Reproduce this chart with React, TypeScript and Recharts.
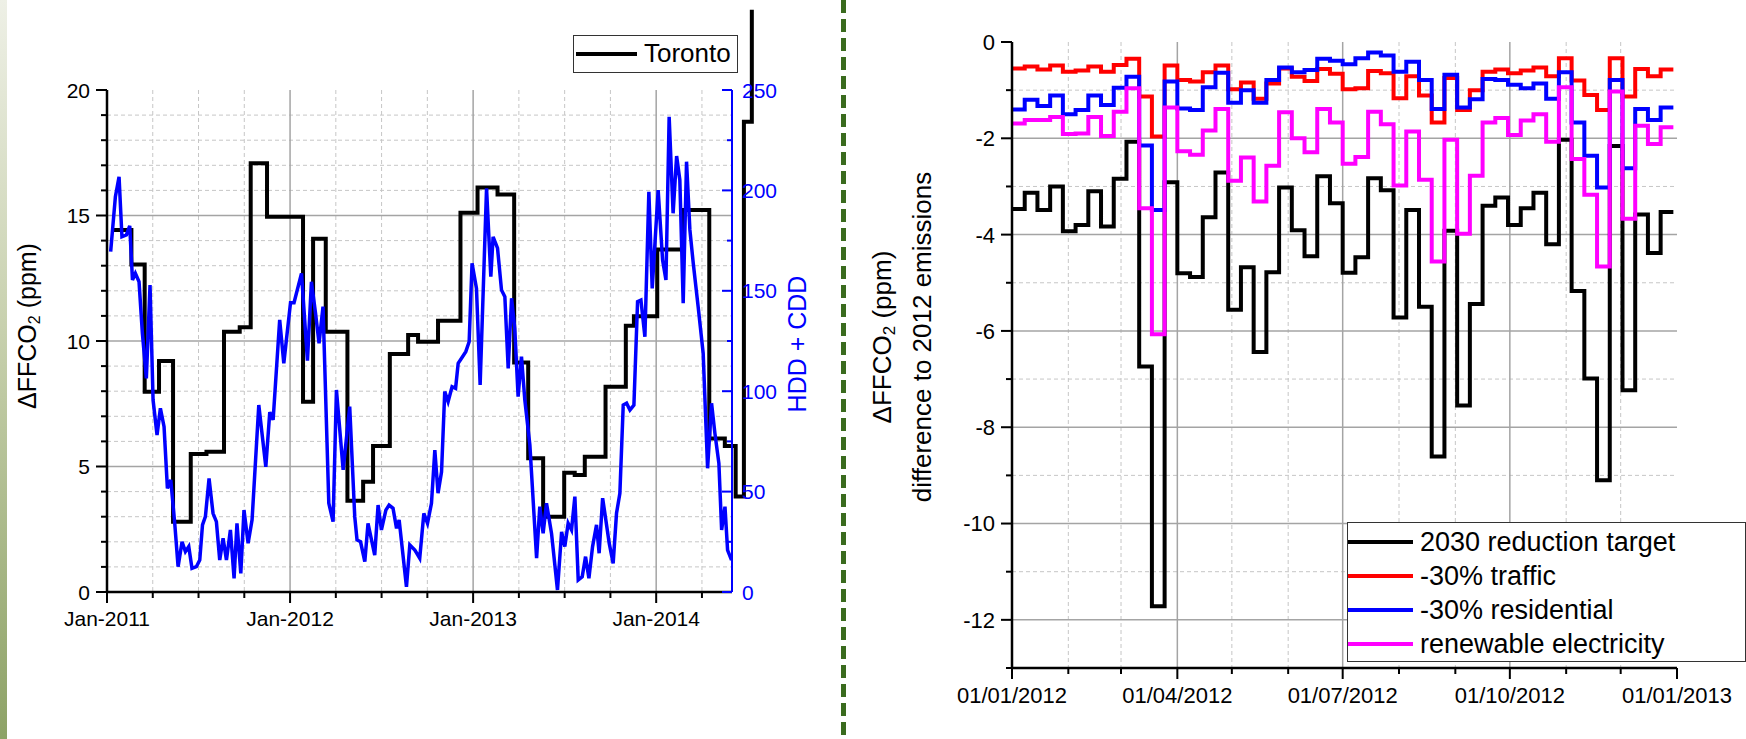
import React from 'react';
import { LineChart, Line, XAxis, YAxis, CartesianGrid, Legend } from 'recharts';

const FONT = '"Liberation Sans", Arial, Helvetica, sans-serif';
const W = 1746;
const H = 739;

// ---------- Left chart: Toronto ΔFFCO2 (monthly steps) and HDD + CDD ----------
// x = months since Jan-2011
const torontoMonths = [0.29, 1.60, 2.47, 3.41, 4.33, 5.49, 6.52, 7.67, 8.70, 9.42, 10.49, 12.85, 13.51, 14.34, 15.76, 16.79, 17.44, 18.54, 19.74, 20.39, 21.70, 23.17, 24.29, 25.60, 26.69, 27.61, 28.59, 29.97, 30.66, 31.32, 32.68, 34.01, 34.54, 36.07, 37.77, 39.48, 40.50, 41.21, 41.75, 42.27];
const torontoValues = [14.42, 13.05, 7.98, 9.20, 2.80, 5.50, 5.59, 10.37, 10.55, 17.08, 14.95, 7.58, 14.07, 10.37, 3.64, 4.39, 5.82, 9.48, 10.24, 9.97, 10.81, 15.11, 16.12, 15.84, 9.14, 5.33, 3.00, 4.75, 4.66, 5.39, 8.18, 10.61, 10.99, 13.65, 15.22, 6.12, 5.82, 3.80, 18.74, 23.20];

const hddMonths = [0.24,0.55,0.79,0.98,1.27,1.49,1.67,1.86,2.10,2.32,2.58,2.82,3.02,3.28,3.50,3.74,3.96,4.18,4.44,4.66,4.92,5.14,5.36,5.57,5.86,6.08,6.26,6.45,6.69,6.95,7.17,7.39,7.61,7.83,8.09,8.33,8.52,8.77,8.98,9.25,9.51,9.95,10.41,10.67,10.89,11.32,11.59,12.03,12.26,12.75,13.14,13.40,13.67,13.90,14.16,14.54,14.82,15.04,15.48,15.91,16.24,16.39,16.62,16.90,17.11,17.55,17.77,17.99,18.28,18.49,18.75,18.98,19.15,19.63,19.85,20.18,20.50,20.77,21.01,21.27,21.49,21.70,21.93,22.14,22.36,22.62,22.85,23.02,23.24,23.52,23.74,23.93,24.22,24.46,24.88,25.16,25.31,25.60,25.86,26.08,26.30,26.52,26.73,26.95,27.17,27.39,27.72,28.16,28.37,28.59,28.81,29.14,29.53,29.80,30.01,30.23,30.45,30.67,30.89,31.15,31.37,31.59,31.83,32.09,32.26,32.49,32.70,32.92,33.18,33.40,33.62,33.84,34.06,34.28,34.54,34.78,35.00,35.26,35.52,35.74,36.13,36.42,36.64,36.85,37.11,37.34,37.55,37.77,37.99,38.21,38.43,38.75,39.08,39.37,39.63,39.85,40.11,40.29,40.51,40.68,40.94];
const hddValues = [169.5,196.9,206.8,176.9,177.8,182.3,155.4,158.7,154.5,128.8,106.4,152.9,95.6,78.2,91.5,82.3,51.6,55.8,34.2,12.6,25.0,20.1,22.6,11.8,12.6,15.9,33.4,37.5,56.6,39.2,35.0,15.9,26.7,15.9,30.9,6.8,34.2,9.3,40.8,24.3,35.9,93.1,62.3,89.6,85.7,135.5,113.9,144.1,144.1,158.7,115.2,154.5,138.8,123.9,142.1,44.2,35.0,100.6,60.8,92.3,37.5,25.9,25.0,15.1,34.2,18.4,43.3,30.9,40.8,43.3,41.7,31.7,35.9,2.6,23.4,20.9,16.8,39.2,34.2,44.2,70.7,49.2,59.9,99.8,94.8,102.2,101.4,113.9,116.4,119.7,124.6,163.7,151.2,103.1,201.0,157.0,176.9,171.2,150.4,147.1,111.4,146.3,131.3,97.3,117.2,95.6,73.2,16.8,42.5,29.2,44.2,29.2,1.0,30.0,22.6,34.2,30.9,47.5,6.0,7.6,17.6,6.8,22.6,33.4,19.3,46.7,35.9,24.3,14.3,39.2,49.2,93.1,94.0,90.6,93.1,144.6,145.4,127.1,199.3,151.2,200.2,165.3,155.4,236.7,188.6,217.1,205.2,143.8,214.3,180.3,163.7,142.1,118.9,61.6,94.0,79.0,64.1,30.9,42.5,20.9,15.9];

const leftXTicks = [0, 3, 6, 9, 12, 15, 18, 21, 24, 27, 30, 33, 36, 39];
const leftYearTicks = [0, 12, 24, 36];
const leftYearLabels = ['Jan-2011', 'Jan-2012', 'Jan-2013', 'Jan-2014'];
const leftYTicks = [0, 1, 2, 3, 4, 5, 6, 7, 8, 9, 10, 11, 12, 13, 14, 15, 16, 17, 18, 19, 20];
const leftYMajor = [0, 5, 10, 15, 20];
const hddTicks = [0, 25, 50, 75, 100, 125, 150, 175, 200, 225, 250];
const hddMajor = [0, 50, 100, 150, 200, 250];
const leftGridMajorY = [5, 10, 15];
const leftGridMinorY = [1, 2, 3, 4, 6, 7, 8, 9, 11, 12, 13, 14, 16, 17, 18, 19];
const leftGridMajorX = [12, 24, 36];
const leftGridMinorX = [3, 6, 9, 15, 18, 21, 27, 30, 33, 39];

// ---------- Right chart: 2012 weekly scenario differences ----------
// x = day of year 2012 (week starts)
const weekDays = [0,7,14,21,28,35,42,49,56,63,70,77,84,91,98,105,112,119,126,133,140,147,154,161,168,175,182,189,196,203,210,217,224,231,238,245,252,259,266,273,280,287,294,301,308,315,322,329,336,343,350,357,364];
const targetValues = [-3.47,-3.13,-3.49,-3.0,-3.93,-3.80,-3.1,-3.83,-2.84,-2.07,-6.74,-11.72,-2.91,-4.8,-4.88,-3.64,-2.71,-5.56,-4.68,-6.44,-4.78,-3.02,-3.91,-4.45,-2.79,-3.35,-4.79,-4.47,-2.83,-3.08,-5.72,-3.49,-5.5,-8.61,-3.92,-7.55,-5.44,-3.4,-3.23,-3.8,-3.45,-3.13,-4.2,-2.03,-5.17,-6.99,-9.1,-2.16,-7.23,-3.58,-4.38,-3.53,-3.53];
const trafficValues = [-0.55,-0.51,-0.57,-0.49,-0.62,-0.59,-0.51,-0.62,-0.48,-0.35,-1.13,-1.96,-0.49,-0.79,-0.82,-0.63,-0.49,-0.98,-0.84,-1.18,-0.86,-0.55,-0.72,-0.81,-0.56,-0.66,-0.98,-0.96,-0.6,-0.65,-1.17,-0.71,-1.11,-1.67,-0.75,-1.41,-1.0,-0.62,-0.57,-0.65,-0.59,-0.53,-0.71,-0.34,-0.8,-1.1,-1.41,-0.34,-1.13,-0.56,-0.71,-0.57,-0.57];
const residentialValues = [-1.40,-1.2,-1.33,-1.11,-1.5,-1.41,-1.11,-1.31,-0.95,-0.72,-2.15,-3.49,-0.82,-1.38,-1.41,-0.94,-0.64,-1.26,-1.0,-1.26,-0.79,-0.53,-0.63,-0.58,-0.35,-0.39,-0.46,-0.34,-0.22,-0.28,-0.62,-0.41,-0.79,-1.39,-0.68,-1.36,-1.19,-0.77,-0.79,-0.89,-0.96,-0.86,-1.18,-0.63,-1.67,-2.36,-3.02,-0.79,-2.62,-1.39,-1.62,-1.36,-1.36];
const renewableValues = [-1.69,-1.62,-1.62,-1.56,-1.91,-1.9,-1.56,-1.95,-1.45,-0.96,-3.45,-6.07,-1.36,-2.27,-2.34,-1.84,-1.39,-2.88,-2.4,-3.31,-2.57,-1.46,-2.0,-2.29,-1.39,-1.67,-2.53,-2.39,-1.45,-1.71,-2.98,-1.86,-2.86,-4.56,-2.03,-3.98,-2.78,-1.67,-1.58,-1.93,-1.63,-1.5,-2.07,-0.94,-2.43,-3.17,-4.66,-1.03,-3.67,-1.74,-2.12,-1.77,-1.77];

const scenarioNames = ['2030 reduction target', '-30% traffic', '-30% residential', 'renewable electricity'];
const scenarioKeys = ['target', 'traffic', 'residential', 'renewable'];
const scenarioColors = ['#000000', '#ff0000', '#0000ff', '#ff00ff'];

const rightXTicks = [0, 31, 60, 91, 121, 152, 182, 213, 244, 274, 305, 335, 366];
const rightQuarterTicks = [0, 91, 182, 274, 366];
const rightQuarterLabels = ['01/01/2012', '01/04/2012', '01/07/2012', '01/10/2012', '01/01/2013'];
const rightYTicks = [-13, -12, -11, -10, -9, -8, -7, -6, -5, -4, -3, -2, -1, 0];
const rightYMajor = [-12, -10, -8, -6, -4, -2, 0];
const rightGridMajorY = [-12, -10, -8, -6, -4, -2];
const rightGridMinorY = [-11, -9, -7, -5, -3, -1];
const rightGridMajorX = [91, 182, 274];
const rightGridMinorX = [31, 60, 121, 152, 213, 244, 305, 335];

// ---------- built tables ----------
const torontoData = torontoMonths.map((m, i) => ({ m, v: torontoValues[i] }));
const hddData = hddMonths.map((m, i) => ({ m, v: hddValues[i] }));
const scenarioData = weekDays.map((d, i) => ({
  d,
  target: targetValues[i],
  traffic: trafficValues[i],
  residential: residentialValues[i],
  renewable: renewableValues[i],
}));

// ---------- tick renderers ----------
const tickText = { fontFamily: FONT, fill: '#000' };

const LeftXTick = (p: any) => {
  const v = p.payload.value;
  const idx = leftYearTicks.indexOf(v);
  const major = idx >= 0;
  return (
    <g>
      <line x1={p.x} x2={p.x} y1={p.y} y2={p.y + (major ? 11 : 6)} stroke="#000" strokeWidth={2} />
      {major && (
        <text x={p.x} y={p.y + 34} textAnchor="middle" fontSize={21} {...tickText}>{leftYearLabels[idx]}</text>
      )}
    </g>
  );
};

const LeftYTick = (p: any) => {
  const v = p.payload.value;
  const major = leftYMajor.includes(v);
  return (
    <g>
      <line x1={p.x - (major ? 11 : 6)} x2={p.x} y1={p.y} y2={p.y} stroke="#000" strokeWidth={2} />
      {major && (
        <text x={p.x - 17} y={p.y} dy="0.36em" textAnchor="end" fontSize={21} {...tickText}>{v}</text>
      )}
    </g>
  );
};

const HddTick = (p: any) => {
  const v = p.payload.value;
  const major = hddMajor.includes(v);
  return (
    <g>
      <line x1={p.x - (major ? 10 : 5)} x2={p.x} y1={p.y} y2={p.y} stroke="#0000ff" strokeWidth={2} />
      {major && (
        <text x={p.x + 10} y={p.y} dy="0.36em" textAnchor="start" fontSize={21} fontFamily={FONT} fill="#0000ff">{v}</text>
      )}
    </g>
  );
};

const RightXTick = (p: any) => {
  const v = p.payload.value;
  const idx = rightQuarterTicks.indexOf(v);
  const major = idx >= 0;
  return (
    <g>
      <line x1={p.x} x2={p.x} y1={p.y} y2={p.y + (major ? 11 : 6)} stroke="#000" strokeWidth={2} />
      {major && (
        <text x={p.x} y={p.y + 35} textAnchor="middle" fontSize={22} {...tickText}>{rightQuarterLabels[idx]}</text>
      )}
    </g>
  );
};

const RightYTick = (p: any) => {
  const v = p.payload.value;
  const major = rightYMajor.includes(v);
  return (
    <g>
      <line x1={p.x - (major ? 11 : 6)} x2={p.x} y1={p.y} y2={p.y} stroke="#000" strokeWidth={2} />
      {major && (
        <text x={p.x - 17} y={p.y} dy="0.36em" textAnchor="end" fontSize={22} {...tickText}>{v}</text>
      )}
    </g>
  );
};

// ---------- axis titles ----------
const LeftTitle = () => (
  <text x={27} y={326} transform="rotate(-90 27 326)" textAnchor="middle" dominantBaseline="central" fontSize={25} fontFamily={FONT} fill="#000">
    ΔFFCO<tspan fontSize={16} dy={7}>2</tspan><tspan dy={-7}> (ppm)</tspan>
  </text>
);

const HddTitle = () => (
  <text x={797} y={344} transform="rotate(-90 797 344)" textAnchor="middle" dominantBaseline="central" fontSize={25} fontFamily={FONT} fill="#0000ff">
    HDD + CDD
  </text>
);

const RightTitle = () => (
  <g>
    <text x={882} y={337} transform="rotate(-90 882 337)" textAnchor="middle" dominantBaseline="central" fontSize={26} fontFamily={FONT} fill="#000">
      ΔFFCO<tspan fontSize={17} dy={7}>2</tspan><tspan dy={-7}> (ppm)</tspan>
    </text>
    <text x={922} y={337} transform="rotate(-90 922 337)" textAnchor="middle" dominantBaseline="central" fontSize={26} fontFamily={FONT} fill="#000">
      difference to 2012 emissions
    </text>
  </g>
);

// ---------- legends ----------
const makeLegend = (order: string[], box: React.CSSProperties, rowH: number, sampleW: number, fontSize: number) => (props: any) => {
  const items = (props.payload || [])
    .filter((it: any) => it.type !== 'none' && order.includes(it.value))
    .sort((a: any, b: any) => order.indexOf(a.value) - order.indexOf(b.value));
  return (
    <div style={{ boxSizing: 'border-box', border: '1.5px solid #333', background: '#fff', ...box }}>
      {items.map((it: any) => (
        <div key={it.value} style={{ display: 'flex', alignItems: 'center', height: rowH }}>
          <span style={{ display: 'inline-block', width: sampleW, height: 0, borderTop: `4px solid ${it.color}` }} />
          <span style={{ marginLeft: 7, fontFamily: FONT, fontSize, color: '#000', lineHeight: `${rowH}px`, whiteSpace: 'nowrap' }}>{it.value}</span>
        </div>
      ))}
    </div>
  );
};

const css = `.noclip .recharts-line-curve { clip-path: none !important; }`;

export default function App() {
  return (
    <div style={{ position: 'absolute', left: 0, top: 0, width: W, height: H, background: '#fff', overflow: 'hidden' }}>
      <style>{css}</style>
      {/* decorative slide edge and separator */}
      <div style={{ position: 'absolute', left: 0, top: 0, width: 7, height: H, background: 'linear-gradient(#eef0e6, #c7d0ad 45%, #8da266)' }} />
      <div style={{ position: 'absolute', left: 841, top: 0, width: 5, height: H, backgroundImage: 'repeating-linear-gradient(to bottom, #3a6b1e 0px, #3a6b1e 13px, transparent 13px, transparent 19px)' }} />

      {/* left chart */}
      <div style={{ position: 'absolute', left: 0, top: 0 }}>
        <LineChart width={W} height={H} margin={{ top: 90, right: 934, bottom: 107, left: 47 }}>
          <CartesianGrid yAxisId="L" horizontalValues={leftGridMinorY} verticalValues={leftGridMinorX} stroke="#c6c6c6" strokeDasharray="4 3" strokeWidth={1} />
          <CartesianGrid yAxisId="L" horizontalValues={leftGridMajorY} verticalValues={leftGridMajorX} stroke="#a4a4a4" strokeWidth={1.5} />
          <XAxis type="number" dataKey="m" domain={[0, 40.97]} allowDataOverflow ticks={leftXTicks} interval={0} tickSize={0} tickMargin={0} tick={LeftXTick} axisLine={{ stroke: '#000', strokeWidth: 2.5 }} height={40} />
          <YAxis yAxisId="L" type="number" domain={[0, 20]} allowDataOverflow ticks={leftYTicks} interval={0} tickSize={0} tickMargin={0} tick={LeftYTick} axisLine={{ stroke: '#000', strokeWidth: 2.5 }} width={60} label={LeftTitle} />
          <YAxis yAxisId="R" orientation="right" type="number" domain={[0, 250]} ticks={hddTicks} interval={0} tickSize={0} tickMargin={0} tick={HddTick} axisLine={{ stroke: '#0000ff', strokeWidth: 2 }} width={80} label={HddTitle} />
          <Line className="noclip" data={torontoData} yAxisId="L" dataKey="v" name="Toronto" type="stepAfter" stroke="#000" strokeWidth={4} dot={false} activeDot={false} isAnimationActive={false} />
          <Line data={hddData} yAxisId="R" dataKey="v" name="HDD + CDD" type="linear" stroke="#0000ff" strokeWidth={3.5} dot={false} activeDot={false} legendType="none" isAnimationActive={false} />
          <Legend layout="vertical" align="center" verticalAlign="middle" wrapperStyle={{ left: 573, top: 35, width: 165 }} content={makeLegend(['Toronto'], { width: 165, height: 38, paddingLeft: 2 }, 35, 61, 26)} />
        </LineChart>
      </div>

      {/* right chart */}
      <div style={{ position: 'absolute', left: 0, top: 0 }}>
        <LineChart width={W} height={H} data={scenarioData} margin={{ top: 42, right: 69, bottom: 31, left: 952 }}>
          <CartesianGrid horizontalValues={rightGridMinorY} verticalValues={rightGridMinorX} stroke="#c6c6c6" strokeDasharray="4 3" strokeWidth={1} />
          <CartesianGrid horizontalValues={rightGridMajorY} verticalValues={rightGridMajorX} stroke="#a4a4a4" strokeWidth={1.5} />
          <XAxis type="number" dataKey="d" domain={[0, 366]} ticks={rightXTicks} interval={0} tickSize={0} tickMargin={0} tick={RightXTick} axisLine={{ stroke: '#000', strokeWidth: 2.5 }} height={40} />
          <YAxis type="number" domain={[-13, 0]} ticks={rightYTicks} interval={0} tickSize={0} tickMargin={0} tick={RightYTick} axisLine={{ stroke: '#000', strokeWidth: 2.5 }} width={60} label={RightTitle} />
          {scenarioKeys.map((k, i) => (
            <Line key={k} dataKey={k} name={scenarioNames[i]} type="stepAfter" stroke={scenarioColors[i]} strokeWidth={4} dot={false} activeDot={false} isAnimationActive={false} />
          ))}
          <Legend layout="vertical" align="center" verticalAlign="middle" wrapperStyle={{ left: 1347, top: 522, width: 399 }} content={makeLegend(scenarioNames, { width: 399, height: 140, paddingTop: 2 }, 34, 65, 27)} />
        </LineChart>
      </div>
    </div>
  );
}
